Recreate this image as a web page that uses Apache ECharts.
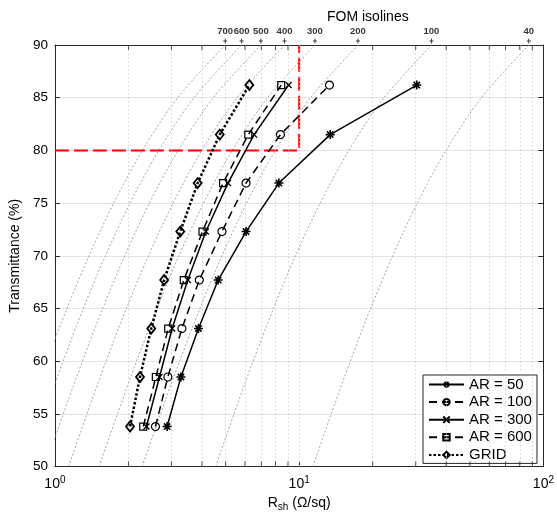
<!DOCTYPE html>
<html><head><meta charset="utf-8">
<script src="https://cdn.jsdelivr.net/npm/echarts@6/dist/echarts.min.js"></script>
<style>html,body{margin:0;padding:0;background:#fff}#c{width:557px;height:517px}</style>
</head><body><div id="c"></div>
<script>
// ---- data ----
const seriesNames = ['AR = 50', 'AR = 100', 'AR = 300', 'AR = 600', 'GRID'];
const transmittance = [53.8, 58.5, 63.1, 67.7, 72.3, 76.9, 81.5, 86.2];
const rshAR50  = [2.88, 3.28, 3.87, 4.66, 6.06, 8.26, 13.4, 30.3];
const rshAR100 = [2.58, 2.90, 3.31, 3.90, 4.83, 6.06, 8.38, 13.3];
const rshAR300 = [2.37, 2.68, 3.02, 3.50, 4.15, 5.11, 6.54, 9.05];
const rshAR600 = [2.30, 2.59, 2.91, 3.37, 4.02, 4.88, 6.19, 8.44];
const rshGRID  = [2.03, 2.23, 2.48, 2.80, 3.26, 3.84, 4.73, 6.25];

// FOM isolines: sheet resistance at T = 50..90 %
const isoT = [50, 55, 60, 65, 70, 75, 80, 85, 90];
const iso700 = [0.650, 0.773, 0.925, 1.120, 1.379, 1.741, 2.281, 3.181, 4.978];
const iso600 = [0.758, 0.902, 1.080, 1.307, 1.609, 2.031, 2.662, 3.711, 5.808];
const iso500 = [0.910, 1.082, 1.296, 1.569, 1.931, 2.437, 3.194, 4.454, 6.970];
const iso400 = [1.138, 1.353, 1.619, 1.961, 2.414, 3.046, 3.993, 5.567, 8.712];
const iso300 = [1.517, 1.803, 2.159, 2.614, 3.218, 4.062, 5.323, 7.423, 11.62];
const iso200 = [2.275, 2.705, 3.239, 3.921, 4.828, 6.092, 7.985, 11.13, 17.43];
const iso100 = [4.551, 5.410, 6.478, 7.843, 9.655, 12.19, 15.97, 22.27, 34.85];
const iso40  = [11.38, 13.53, 16.19, 19.61, 24.14, 30.46, 39.93, 55.67, 87.12];

const fomLabels = [700, 600, 500, 400, 300, 200, 100, 40];
const fomLabelRsh = [4.98, 5.81, 6.97, 8.71, 11.6, 17.4, 34.8, 87.1];
const fomLabelT = 90;

const redLineRsh = [1, 10, 10];
const redLineT = [80, 80, 90];

const xMinorGrid = [2,3,4,5,6,7,8,9,10,20,30,40,50,60,70,80,90];
const xMinorTicks = [2,3,4,5,6,7,8,9,20,30,40,50,60,70,80,90];

// ---- chart ----
const FONT = 'Liberation Sans, Arial, Helvetica, sans-serif';
const AX = '#262626';
const chart = echarts.init(document.getElementById('c'), null, {renderer: 'canvas'});

const pair = (xs, ys) => xs.map((x, i) => [x, ys[i]]);
const isoSets = [iso700, iso600, iso500, iso400, iso300, iso200, iso100, iso40];

const series = [];
isoSets.forEach((arr, k) => {
  series.push({
    type: 'line', name: 'iso' + fomLabels[k], data: pair(arr, isoT),
    smooth: 0.3, symbol: 'none', silent: true, z: 1,
    lineStyle: {color: '#8c8c8c', width: 0.8, type: [2, 2]}
  });
});
// vertical dotted grid
series.push({
  type: 'line', name: 'vgrid', data: [], silent: true, z: 0,
  markLine: {
    silent: true, symbol: 'none', label: {show: false},
    lineStyle: {color: '#c4c4c4', width: 0.8, type: [1.5, 2.5]},
    emphasis: {disabled: true},
    data: xMinorGrid.map(v => ({xAxis: v}))
  }
});
// red reference line
series.push({
  type: 'line', name: 'ref', data: pair(redLineRsh, redLineT), symbol: 'none', silent: true, z: 2,
  lineStyle: {color: '#ff0000', width: 2, type: [14, 5]}
});
// minor ticks bottom / top
series.push({
  type: 'scatter', name: 'tb', silent: true, clip: false, z: 5,
  data: xMinorTicks.map(v => [v, 50]), symbol: 'rect', symbolSize: [1, 5], symbolOffset: [0, -2.5],
  itemStyle: {color: AX}
});
series.push({
  type: 'scatter', name: 'tt', silent: true, clip: false, z: 5,
  data: xMinorTicks.map(v => [v, 90]), symbol: 'rect', symbolSize: [1, 5], symbolOffset: [0, 2.5],
  itemStyle: {color: AX}
});
// FOM labels on top
series.push({
  type: 'scatter', name: 'fom', silent: true, clip: false, z: 5,
  data: fomLabelRsh.map((x, i) => ({value: [x, fomLabelT], label: {formatter: String(fomLabels[i])}})),
  symbol: 'path://M5,0L5,10M2,5L8,5', symbolSize: [4, 5], symbolOffset: [0, -4],
  itemStyle: {color: 'rgba(0,0,0,0)', borderColor: '#000', borderWidth: 1},
  label: {show: true, position: 'top', distance: 2, fontSize: 9.5, fontWeight: 'bold', color: '#000', fontFamily: FONT}
});

const tr = 'rgba(0,0,0,0)';
const dataDefs = [
  {name: seriesNames[0], x: rshAR50, symbol: 'path://M5,0L5,10M0,5L10,5M1.5,1.5L8.5,8.5M1.5,8.5L8.5,1.5', size: 9, line: 'solid', lw: 1.5, bw: 1.6},
  {name: seriesNames[1], x: rshAR100, symbol: 'circle', size: 8, line: [8, 5], lw: 1.5, bw: 1.2},
  {name: seriesNames[2], x: rshAR300, symbol: 'path://M0,0L10,10M0,10L10,0', size: 6, line: 'solid', lw: 1.5, bw: 1.3},
  {name: seriesNames[3], x: rshAR600, symbol: 'rect', size: 7, line: [8, 5], lw: 1.5, bw: 1.2},
  {name: seriesNames[4], x: rshGRID, symbol: 'diamond', size: [8, 10], line: [2.5, 2], lw: 2.5, bw: 1.8}
];
dataDefs.forEach(d => {
  series.push({
    type: 'line', name: d.name, data: pair(d.x, transmittance), z: 10,
    symbol: d.symbol, symbolSize: d.size, showAllSymbol: true,
    itemStyle: {color: tr, borderColor: '#000', borderWidth: d.bw},
    lineStyle: {color: '#000', width: d.lw, type: d.line},
    emphasis: {disabled: true}
  });
});

const option = {
  animation: false,
  backgroundColor: '#fff',
  textStyle: {fontFamily: FONT},
  title: {text: 'FOM isolines', left: 322, top: 5,
    textStyle: {fontSize: 14, fontWeight: 'normal', color: '#000', fontFamily: FONT}},
  grid: {left: 51, right: 10, top: 45, bottom: 43, containLabel: false},
  legend: {
    data: seriesNames, orient: 'vertical', left: 423, top: 375,
    itemWidth: 35, itemHeight: 8, itemGap: 2.6, padding: [2, 5, 1, 5],
    borderColor: AX, borderWidth: 1, backgroundColor: '#fff',
    textStyle: {fontSize: 15, color: '#000', fontFamily: FONT}, selectedMode: false
  },
  xAxis: [{
    type: 'log', logBase: 10, min: 1, max: 100, position: 'bottom',
    name: 'R{sub|sh} (Ω/sq)', nameLocation: 'middle', nameGap: 25,
    nameTextStyle: {fontSize: 14, color: '#000', fontFamily: FONT,
      rich: {sub: {fontSize: 10, verticalAlign: 'bottom', padding: [7, 0, 0, 0], fontFamily: FONT, color: '#000'}}},
    axisLine: {show: true, lineStyle: {color: AX, width: 1}},
    axisTick: {show: true, inside: true, length: 5, lineStyle: {color: AX}},
    splitLine: {show: false},
    axisLabel: {margin: 9, color: '#000', fontSize: 14, fontFamily: FONT,
      formatter: v => '10{sup|' + Math.round(Math.log10(v)) + '}',
      rich: {sup: {fontSize: 10, verticalAlign: 'top', padding: [0, 0, 8, 0], color: '#000', fontFamily: FONT}}}
  }, {
    type: 'log', logBase: 10, min: 1, max: 100, position: 'top',
    axisLine: {show: true, lineStyle: {color: AX, width: 1}},
    axisTick: {show: true, inside: true, length: 5, lineStyle: {color: AX}},
    splitLine: {show: false}, axisLabel: {show: false}
  }],
  yAxis: [{
    type: 'value', min: 50, max: 90, interval: 5, position: 'left',
    name: 'Transmittance (%)', nameLocation: 'middle', nameGap: 21,
    nameTextStyle: {fontSize: 14, color: '#000', fontFamily: FONT},
    axisLine: {show: true, lineStyle: {color: AX, width: 1}},
    axisTick: {show: true, inside: true, length: 5, lineStyle: {color: AX}},
    splitLine: {show: true, lineStyle: {color: '#e3e3e3', width: 1}},
    axisLabel: {margin: 7, color: '#000', fontSize: 13.5, fontFamily: FONT}
  }, {
    type: 'value', min: 50, max: 90, interval: 5, position: 'right',
    axisLine: {show: true, lineStyle: {color: AX, width: 1}},
    axisTick: {show: true, inside: true, length: 5, lineStyle: {color: AX}},
    splitLine: {show: false}, axisLabel: {show: false}
  }],
  series: series
};
chart.setOption(option);
</script>
</body></html>
